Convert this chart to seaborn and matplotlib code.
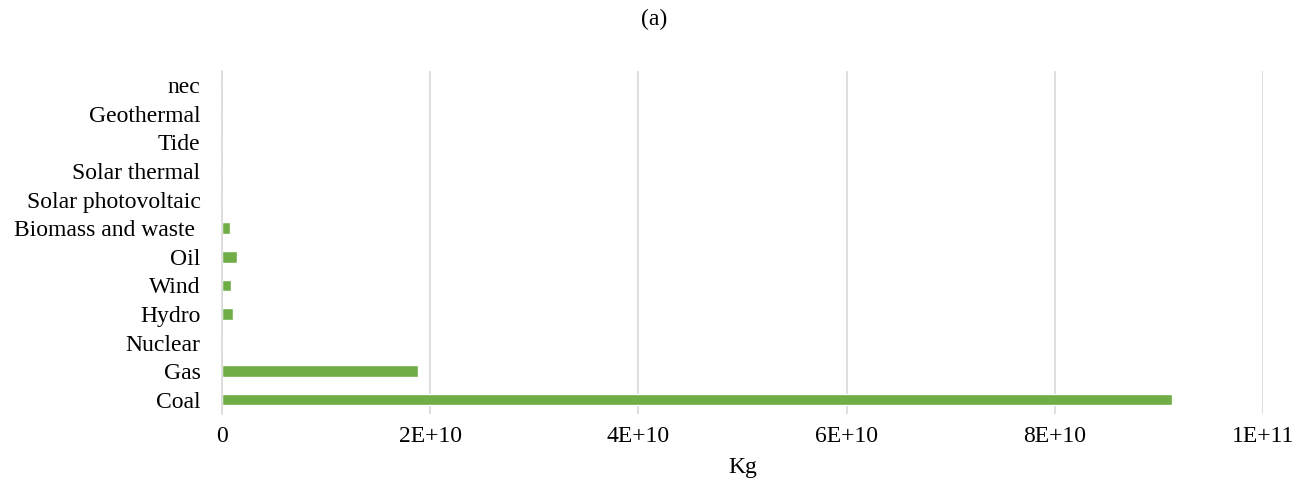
import matplotlib
matplotlib.use("Agg")
import matplotlib.pyplot as plt
import seaborn as sns
import pandas as pd
from matplotlib.ticker import FixedLocator

categories = ["nec", "Geothermal", "Tide", "Solar thermal", "Solar photovoltaic",
              "Biomass and waste ", "Oil", "Wind", "Hydro", "Nuclear", "Gas", "Coal"]
values = [0, 0, 0, 0, 0, 7.7e8, 1.4e9, 8.6e8, 1.06e9, 0, 1.88e10, 9.13e10]
xticks = [0, 2e10, 4e10, 6e10, 8e10, 1e11]
xtick_labels = ["0", "2E+10", "4E+10", "6E+10", "8E+10", "1E+11"]

df = pd.DataFrame({"cat": categories, "val": values})

sns.set_theme(style="white")
plt.rcParams["font.family"] = ["Liberation Serif", "DejaVu Serif"]

fig = plt.figure(figsize=(13.08, 4.87), dpi=100)
ax = fig.add_axes([222/1308, 1 - 414/487, (1263-222)/1308, (414-71)/487])

sns.barplot(data=df, y="cat", x="val", order=categories, color="#70AD47",
            saturation=1, width=0.4, ax=ax)

fs = 17
ax.set_xlim(0, 1e11)
ax.set_ylim(len(categories) - 0.5, -0.5)
ax.xaxis.set_major_locator(FixedLocator(xticks))
ax.set_xticklabels(xtick_labels, fontsize=fs, color="#000000")
ax.tick_params(axis="y", labelsize=fs, colors="#000000", length=0, pad=15.5)
ax.tick_params(axis="x", length=0, pad=9)
ax.grid(axis="x", color="#d9d9d9", linewidth=1.2)
ax.set_axisbelow(True)
for s in ["top", "right", "bottom"]:
    ax.spines[s].set_visible(False)
ax.spines["left"].set_color("#d9d9d9")
ax.spines["left"].set_linewidth(1.2)
ax.set_ylabel("")
ax.set_xlabel("Kg", fontsize=fs, color="#000000", labelpad=6.5)
fig.text(0.5, 1 - 19/487, "(a)", ha="center", va="center", fontsize=fs, color="#000000")

fig.savefig("out.png", dpi=100)
